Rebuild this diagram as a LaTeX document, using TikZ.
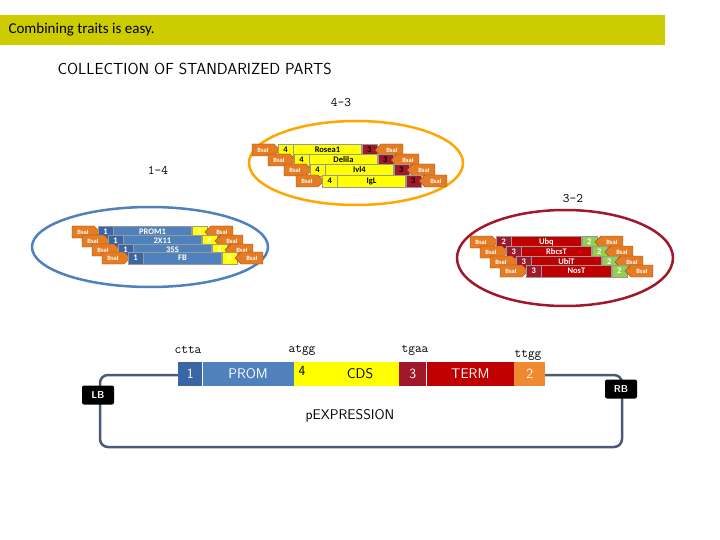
\documentclass[tikz,border=0pt]{standalone}
\usepackage{fontspec}
\setmainfont{Carlito}
\usetikzlibrary{shapes.arrows,shapes.geometric}
\definecolor{banner}{HTML}{CCCC00}
\definecolor{bsal}{HTML}{E57B22}
\definecolor{pblue}{HTML}{4F81BD}
\definecolor{dblue}{HTML}{3A66A6}
\definecolor{pyel}{HTML}{FFFF00}
\definecolor{pred}{HTML}{C00000}
\definecolor{dred}{HTML}{A0182A}
\definecolor{pgreen}{HTML}{92D050}
\definecolor{porange}{HTML}{F08A30}
\definecolor{outl}{HTML}{4A5A78}
\tikzset{
 bx/.style={draw=black!40,line width=0.3pt,minimum height=12pt,inner sep=0pt,font=\fontsize{8.5}{8.5}\selectfont\bfseries,anchor=west},
 lab/.style={font=\fontsize{13}{13}\selectfont\ttfamily},
}
\newcommand{\prow}[9]{%
 \fill[bsal,draw=bsal!60!black,line width=0.3pt] (#2,#3-6) -- ++(22,0) -- ++(6,6) -- ++(-6,6) -- ++(-22,0) -- cycle;
 \node[text=white,font=\fontsize{6.5}{6.5}\selectfont\bfseries] (#1a) at (#2+11,#3) {BsaI};
 \node[bx,fill=#4,minimum width=15pt,text=\tc] (#1b) at (#2+26,#3) {#5};
 \node[bx,fill=#6,minimum width=\mw pt,text=\tc] (#1c) at (#1b.east) {#7};
 \node[bx,fill=#8,minimum width=15pt,text=\tc] (#1d) at (#1c.east) {#9};
 \fill[bsal,draw=bsal!60!black,line width=0.3pt] ([xshift=-2pt]#1d.east) -- ++(6,6) -- ++(22,0) -- ++(0,-12) -- ++(-22,0) -- cycle;
 \node[text=white,font=\fontsize{6.5}{6.5}\selectfont\bfseries] (#1e) at ([xshift=15pt]#1d.east) {BsaI};
}
\begin{document}
\begin{tikzpicture}[x=1pt,y=-1pt]
\useasboundingbox (0,0) rectangle (720,540);
\fill[white] (0,0) rectangle (720,540);
\node[fill=banner,minimum width=665pt,minimum height=30pt,anchor=north west,inner sep=0pt] (ban) at (0,15) {};
\node[anchor=west,font=\fontsize{15}{15}\selectfont] (title) at (5,30) {Combining traits is easy.};
\node[anchor=west,font=\fontsize{16}{16}\selectfont\sffamily] (coll) at (54,69) {COLLECTION OF STANDARIZED PARTS};
\node[lab] (l43) at (341,103) {4-3};
\node[lab] (l14) at (158,170) {1-4};
\node[lab] (l32) at (573,199) {3-2};
% ellipses
\draw[color=orange!70!yellow,line width=2.5pt] (356,163) ellipse [x radius=107,y radius=42];
\draw[color=pblue,line width=2.5pt] (150,247) ellipse [x radius=118,y radius=40];
\draw[color=dred,line width=2.5pt] (565,258) ellipse [x radius=108,y radius=48];
% yellow stack
\def\tc{black}\def\mw{68}
\prow{y1}{252}{150}{pyel}{4}{pyel}{Rosea1}{dred}{3}
\prow{y2}{268}{160}{pyel}{4}{pyel}{Delila}{dred}{3}
\prow{y3}{284}{170}{pyel}{4}{pyel}{Ivl4}{dred}{3}
\prow{y4}{296}{181}{pyel}{4}{pyel}{IgL}{dred}{3}
% blue stack
\def\tc{white}\def\mw{78}
\prow{b1}{72}{232}{dblue}{1}{pblue}{PROM1}{pyel}{4}
\prow{b2}{82}{241}{dblue}{1}{pblue}{2X11}{pyel}{4}
\prow{b3}{92}{250}{dblue}{1}{pblue}{35S}{pyel}{4}
\prow{b4}{102}{258}{dblue}{1}{pblue}{FB}{pyel}{4}
% red stack
\def\mw{70}
\prow{r1}{470}{242}{dred}{2}{pred}{Ubq}{pgreen}{2}
\prow{r2}{480}{252}{dred}{3}{pred}{RbcsT}{pgreen}{2}
\prow{r3}{490}{262}{dred}{3}{pred}{UbiT}{pgreen}{2}
\prow{r4}{500}{271}{dred}{3}{pred}{NosT}{pgreen}{2}
% expression vector
\draw[outl,line width=2.5pt,rounded corners=8pt] (178,375) -- (100,375) -- (100,447) -- (622,447) -- (622,375) -- (543,375);
\tikzset{seg/.style={minimum height=24pt,inner sep=0pt,anchor=west,font=\fontsize{14}{14}\selectfont\sffamily}}
\node[seg,fill=dblue,minimum width=24pt,text=white] (s1) at (178,374) {1};
\node[seg,fill=pblue,minimum width=91pt,text=white] (s2) at (s1.east) {PROM};
\node[seg,fill=pyel,minimum width=105pt] (s3) at (s2.east) {};
\node[font=\fontsize{14}{14}\selectfont\sffamily] (n4) at (302,371) {4};
\node[font=\fontsize{14}{14}\selectfont\sffamily] (cds) at (360,374) {CDS};
\node[seg,fill=dred,minimum width=27pt,text=white] (s4) at (s3.east) {3};
\node[seg,fill=pred,minimum width=87pt,text=white] (s5) at (s4.east) {TERM};
\node[seg,fill=porange,minimum width=31pt,text=white] (s6) at (s5.east) {2};
\node[lab] (c1) at (188,350) {ctta};
\node[lab] (c2) at (302,350) {atgg};
\node[lab] (c3) at (415,350) {tgaa};
\node[lab] (c4) at (528,355) {ttgg};
\node[fill=black,text=white,rounded corners=2pt,minimum width=32pt,minimum height=19pt,font=\fontsize{10}{10}\selectfont\bfseries\sffamily] (lb) at (98,395) {LB};
\node[fill=black,text=white,rounded corners=2pt,minimum width=32pt,minimum height=19pt,font=\fontsize{10}{10}\selectfont\bfseries\sffamily] (rb) at (621,389) {RB};
\node[font=\fontsize{14}{14}\selectfont\sffamily] (pexp) at (350,416) {pEXPRESSION};
\end{tikzpicture}
\end{document}
